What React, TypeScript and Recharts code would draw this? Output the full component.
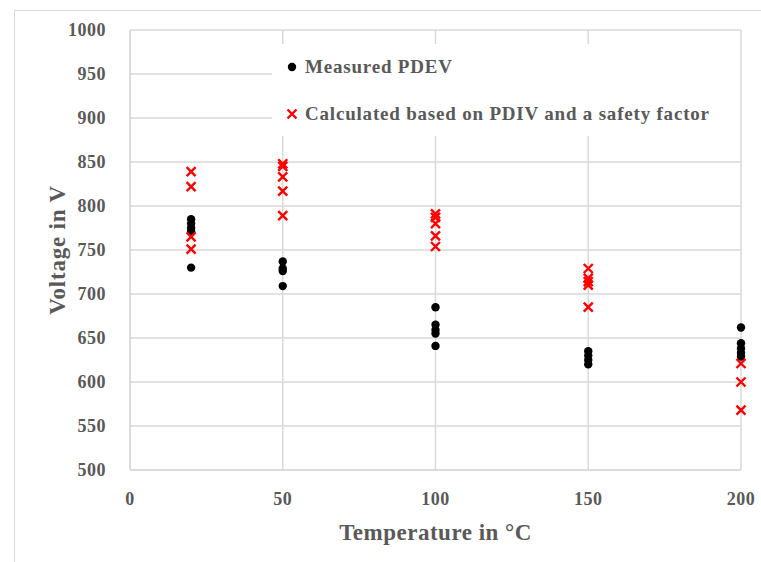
import React from 'react';
import {
    ScatterChart,
    Scatter,
    XAxis,
    YAxis,
    CartesianGrid,
} from 'recharts';

// Measured PDEV (temperature in °C, voltage in V)
const pdevTemps = [20, 20, 20, 20, 20, 50, 50, 50, 50, 100, 100, 100, 100, 100, 150, 150, 150, 150, 200, 200, 200, 200, 200];
const pdevVolts = [785, 780, 775, 771, 730, 737, 729, 726, 709, 685, 665, 659, 655, 641, 635, 630, 625, 620, 662, 644, 638, 633, 629];

// Calculated based on PDIV and a safety factor
const calcTemps = [20, 20, 20, 20, 50, 50, 50, 50, 50, 100, 100, 100, 100, 100, 150, 150, 150, 150, 150, 200, 200, 200];
const calcVolts = [839, 822, 765, 751, 848, 845, 833, 817, 789, 791, 787, 780, 766, 754, 729, 718, 714, 710, 685, 621, 600, 568];

const xTicks = [0, 50, 100, 150, 200];
const yTicks = [500, 550, 600, 650, 700, 750, 800, 850, 900, 950, 1000];

const pdevData = pdevTemps.map((t, i) => ({ temp: t, volt: pdevVolts[i] }));
const calcData = calcTemps.map((t, i) => ({ temp: t, volt: calcVolts[i] }));

const FONT = '"Liberation Serif", serif';
const TEXT = '#595959';
const GRID = '#d9d9d9';

const Cross = (props: any) => {
    const { cx, cy } = props;
    const s = 4.5;
    return (
        <path
            d={`M${cx - s},${cy - s}L${cx + s},${cy + s}M${cx - s},${cy + s}L${cx + s},${cy - s}`}
            stroke="#ff0000"
            strokeWidth={2.4}
            fill="none"
        />
    );
};

const Dot = (props: any) => {
    const { cx, cy } = props;
    return <circle cx={cx} cy={cy} r={4.2} fill="#000000" />;
};

// legend sits on a white box over the grid, like the original
const LegendBox = () => (
    <div
        style={{
            position: 'absolute',
            left: 272,
            top: 44,
            width: 468,
            height: 92,
            background: '#fff',
            fontFamily: FONT,
            fontWeight: 'bold',
            fontSize: 19,
            letterSpacing: 0.8,
            color: TEXT,
        }}
    >
        <div style={{ position: 'absolute', left: 13, top: 8, display: 'flex', alignItems: 'center', height: 30 }}>
            <svg width={14} height={14} style={{ marginRight: 6 }}>
                <circle cx={7} cy={7} r={4.2} fill="#000" />
            </svg>
            Measured PDEV
        </div>
        <div style={{ position: 'absolute', left: 13, top: 55, display: 'flex', alignItems: 'center', height: 30, whiteSpace: 'nowrap' }}>
            <svg width={14} height={14} style={{ marginRight: 6 }}>
                <path d="M2.5,2.5L11.5,11.5M2.5,11.5L11.5,2.5" stroke="#ff0000" strokeWidth={2.4} />
            </svg>
            Calculated based on PDIV and a safety factor
        </div>
    </div>
);

const App: React.FC = () => {
    return (
        <div style={{ position: 'absolute', left: 0, top: 0, width: 761, height: 562, background: '#fff', overflow: 'hidden' }}>
            <div
                style={{
                    position: 'absolute',
                    left: 14,
                    top: 10,
                    width: 760,
                    height: 560,
                    border: '1px solid #d9d9d9',
                }}
            />
            <ScatterChart
                width={761}
                height={562}
                margin={{ top: 30, right: 20, bottom: 62, left: 70 }}
                style={{ position: 'absolute', left: 0, top: 0 }}
            >
                <CartesianGrid stroke={GRID} strokeWidth={1.5} />
                <XAxis
                    type="number"
                    dataKey="temp"
                    domain={[0, 200]}
                    ticks={xTicks}
                    height={30}
                    axisLine={{ stroke: GRID, strokeWidth: 1.5 }}
                    tickLine={false}
                    tickMargin={16}
                    tick={{ fill: TEXT, fontFamily: FONT, fontWeight: 'bold', fontSize: 18, letterSpacing: 0.5 }}
                    label={{
                        value: 'Temperature in °C',
                        position: 'bottom',
                        offset: 24,
                        fill: TEXT,
                        fontFamily: FONT,
                        fontWeight: 'bold',
                        fontSize: 23,
                        letterSpacing: 0.5,
                    }}
                />
                <YAxis
                    type="number"
                    dataKey="volt"
                    domain={[500, 1000]}
                    ticks={yTicks}
                    width={60}
                    axisLine={{ stroke: GRID, strokeWidth: 1.5 }}
                    tickLine={false}
                    tickMargin={18}
                    tick={{ fill: TEXT, fontFamily: FONT, fontWeight: 'bold', fontSize: 18, letterSpacing: 0.5 }}
                    label={{
                        value: 'Voltage in V',
                        angle: -90,
                        position: 'left',
                        offset: 13,
                        fill: TEXT,
                        fontFamily: FONT,
                        fontWeight: 'bold',
                        fontSize: 23,
                        letterSpacing: 0.8,
                        style: { textAnchor: 'middle' },
                    }}
                />
                <Scatter name="Measured PDEV" data={pdevData} shape={<Dot />} isAnimationActive={false} />
                <Scatter
                    name="Calculated based on PDIV and a safety factor"
                    data={calcData}
                    shape={<Cross />}
                    isAnimationActive={false}
                />
            </ScatterChart>
            <LegendBox />
        </div>
    );
};

export default App;
